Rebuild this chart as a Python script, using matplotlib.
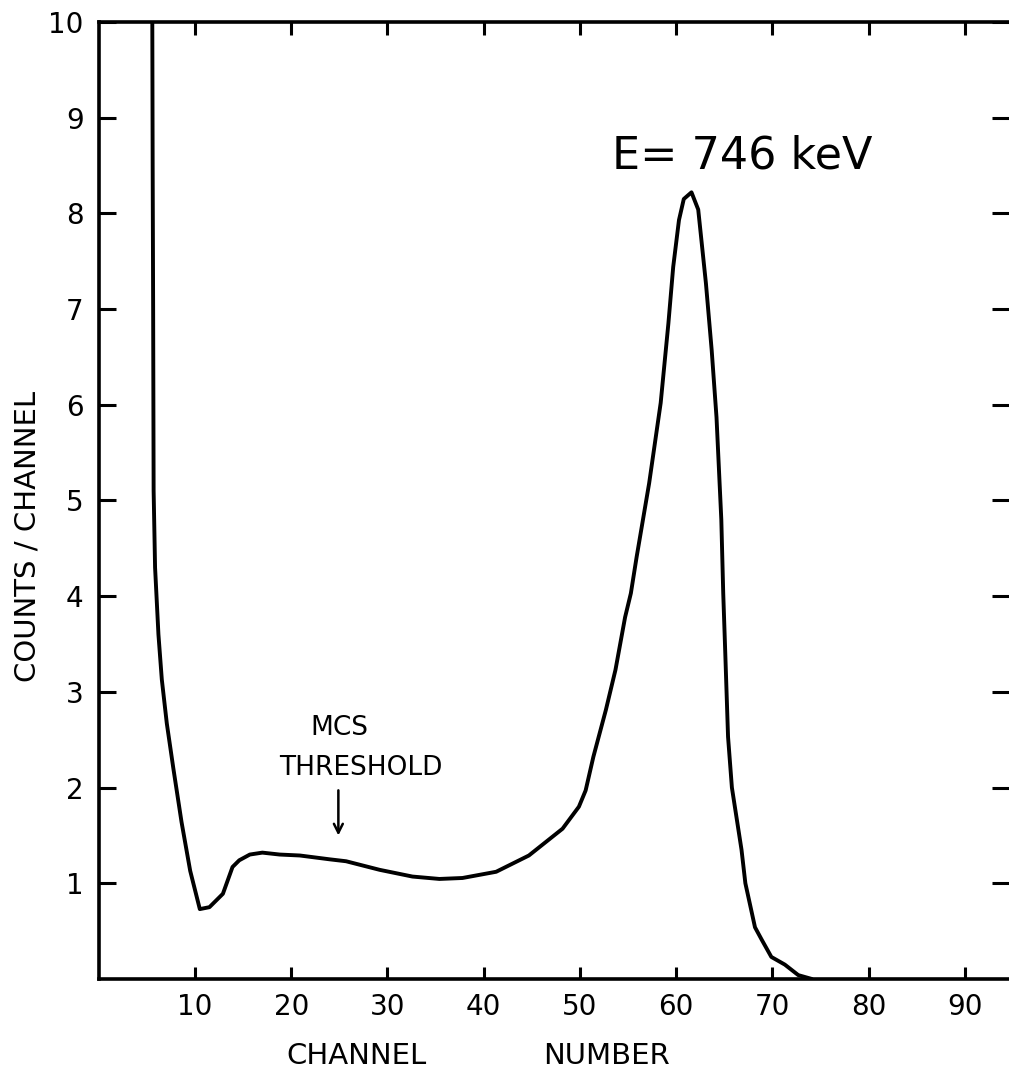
import numpy as np
import matplotlib
matplotlib.use("Agg")
import matplotlib.pyplot as plt

# spectrum
channel = [5.55, 5.6, 5.65, 5.7, 5.85, 6.2, 6.55, 7.07, 7.75, 8.6, 9.5, 10.5,
           11.5, 12.9, 13.9, 14.6, 15.7, 17.0, 18.8, 20.9, 24.0, 25.7, 29.2,
           32.6, 35.4, 37.8, 41.3, 44.7, 48.2, 49.9, 50.6, 51.4, 52.7, 53.7,
           54.7, 55.3, 55.9, 57.2, 58.4, 59.2, 59.7, 60.3, 60.8, 61.6, 62.3,
           63.1, 63.7, 64.2, 64.7, 64.9, 65.1, 65.4, 65.8, 66.8, 67.2, 68.2,
           68.9, 69.9, 71.3, 72.7, 74.1]
counts = [10.5, 8.5, 7.0, 5.1, 4.3, 3.6, 3.13, 2.67, 2.2, 1.64, 1.13, 0.73,
          0.75, 0.89, 1.17, 1.24, 1.30, 1.32, 1.30, 1.29, 1.25, 1.23, 1.14,
          1.07, 1.045, 1.055, 1.12, 1.29, 1.57, 1.8, 1.97, 2.32, 2.81, 3.23,
          3.78, 4.03, 4.41, 5.18, 6.02, 6.85, 7.44, 7.93, 8.15, 8.22, 8.04,
          7.27, 6.57, 5.87, 4.8, 4.03, 3.44, 2.53, 2.0, 1.35, 1.0, 0.54,
          0.41, 0.23, 0.15, 0.04, 0.0]

x_ticks = [10, 20, 30, 40, 50, 60, 70, 80, 90]
y_ticks = [1, 2, 3, 4, 5, 6, 7, 8, 9, 10]

threshold_ch = 24.9

fig = plt.figure(figsize=(10.09, 10.72), dpi=100)
ax = fig.add_axes([0.0979, 0.0868, 0.9021, 0.8927])

ax.plot(channel, counts, color="black", lw=2.8, solid_capstyle="round",
        solid_joinstyle="round")

ax.set_xlim(0, 94.6)
ax.set_ylim(0, 10)

ax.set_xticks(x_ticks)
ax.set_xticklabels([str(v) for v in x_ticks])
ax.set_yticks(y_ticks)
ax.set_yticklabels([str(v) for v in y_ticks])

ax.tick_params(axis="both", direction="in", width=2.2, labelsize=20,
               top=True, right=True, labeltop=False, labelright=False)
ax.tick_params(axis="x", length=9, pad=10)
ax.tick_params(axis="y", length=12, pad=11)

for side in ["left", "bottom", "top"]:
    ax.spines[side].set_linewidth(2.6)
ax.spines["right"].set_visible(False)

# axis titles placed by hand, the original lettering is off-centre
fig.text(0.027, 0.50, "COUNTS / CHANNEL", rotation=90, fontsize=21,
         ha="center", va="center")
fig.text(0.284, 0.0145, "CHANNEL", fontsize=21, ha="left", va="center")
fig.text(0.664, 0.0145, "NUMBER", fontsize=21, ha="right", va="center")

ax.text(53.3, 8.6, "E= 746 keV", fontsize=32, ha="left", va="center")

ax.text(25.0, 2.62, "MCS", fontsize=19, ha="center", va="center")
ax.text(27.2, 2.2, "THRESHOLD", fontsize=19, ha="center", va="center")
ax.annotate("", xy=(threshold_ch, 1.47), xytext=(threshold_ch, 2.0),
            arrowprops=dict(arrowstyle="->", lw=1.8, color="black",
                            mutation_scale=16))

fig.savefig("out.png", dpi=100)
